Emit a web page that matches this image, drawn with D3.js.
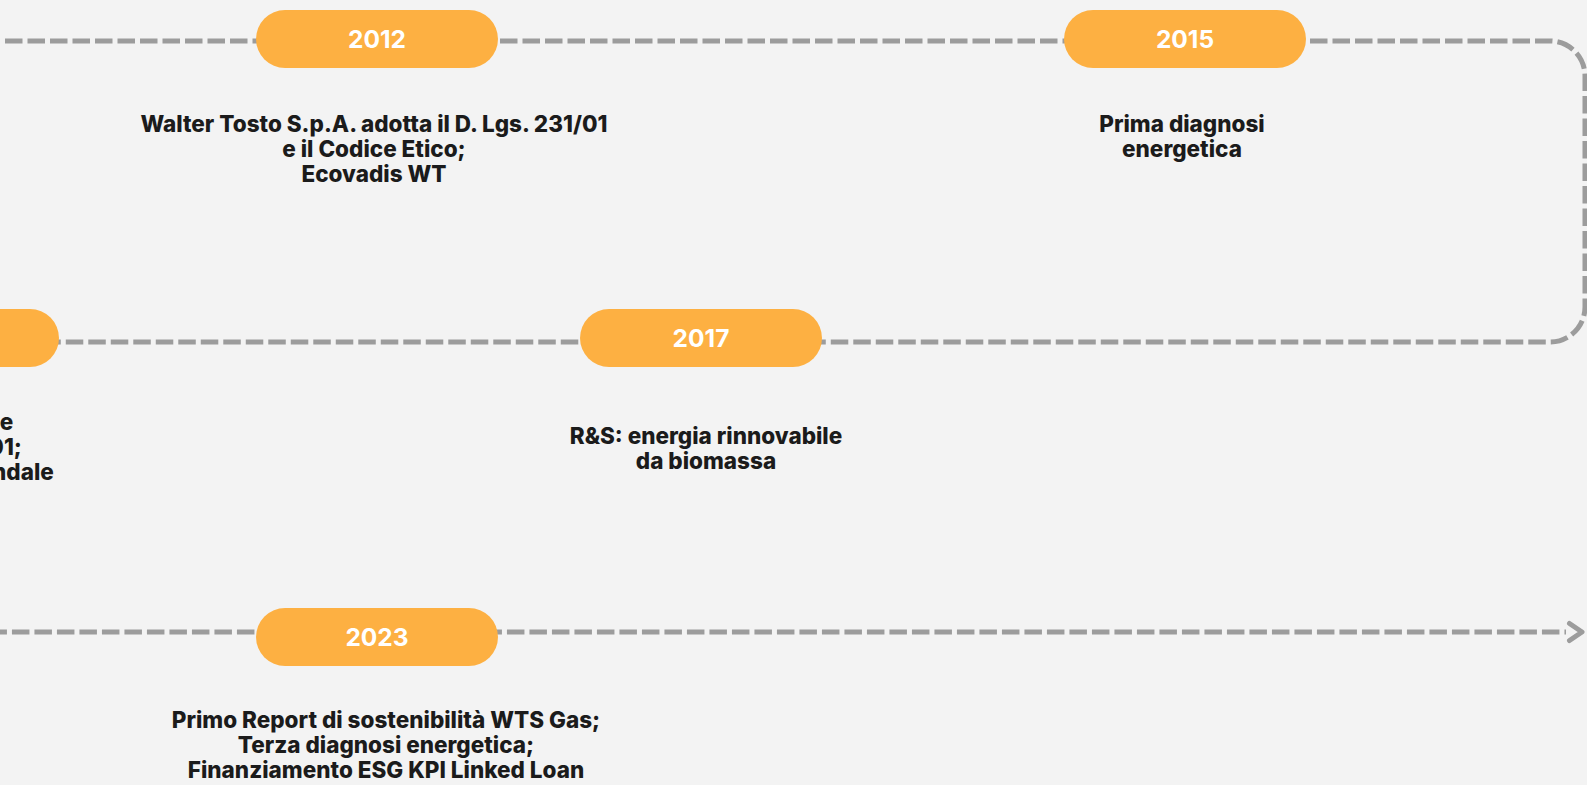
<!DOCTYPE html>
<html>
<head>
<meta charset="utf-8">
<script src="https://cdn.jsdelivr.net/npm/d3@7"></script>
<style>
  html, body { margin: 0; padding: 0; background: #f3f3f3; overflow: hidden; }
  svg { display: block; }
</style>
</head>
<body>
<svg id="chart" width="1587" height="785"></svg>
<script>
// ---------- DATA ----------
const years = ["2012", "2015", "2017", "2020", "2023"];
const descriptions = [
  ["Walter Tosto S.p.A. adotta il D. Lgs. 231/01", "e il Codice Etico;", "Ecovadis WT"],
  ["Prima diagnosi", "energetica"],
  ["R&S: energia rinnovabile", "da biomassa"],
  ["Il Codice Etico, e", "del D. Lgs. 231/01;", "Piano welfare aziendale"],
  ["Primo Report di sostenibilità WTS Gas;", "Terza diagnosi energetica;", "Finanziamento ESG KPI Linked Loan"]
];
// row of the snake each event sits on, and its slot along that row
const eventRow  = [0, 0, 1, 1, 2];
const eventSlot = [0, 1, 0, 1, 0];

// ---------- LAYOUT ----------
const W = 1587, H = 785;
const COLORS = { bg: "#f3f3f3", line: "#9c9c9c", pill: "#fdb042", year: "#ffffff", text: "#1b1b1b" };
const rowPillY = [39, 338, 637];
const rowLineY = [41, 342, 632];
// slot -> x centre, per row (row 1 runs right-to-left)
const rowSlotX = [
  d3.scaleLinear().domain([0, 1]).range([377, 1185]),
  d3.scaleLinear().domain([0, 1]).range([701, -62]),
  d3.scaleLinear().domain([0, 1]).range([377, 1185])
];
const pillW = 242, pillH = 58;
const descNudge = [ {dx: -3, dy: 93}, {dx: -3, dy: 93}, {dx: 5, dy: 106}, {dx: -16, dy: 92}, {dx: 9, dy: 91} ];
const lineH = 25;
const cornerR = 35, rightX = 1585, leftX = -160;

const svg = d3.select("#chart");
svg.append("rect").attr("width", W).attr("height", H).attr("fill", COLORS.bg);

// ---------- snake path ----------
const p = d3.path();
const startX = 5 - 22.5 * 16;
p.moveTo(startX, rowLineY[0]);
p.lineTo(rightX - cornerR, rowLineY[0]);
p.arcTo(rightX, rowLineY[0], rightX, rowLineY[0] + cornerR, cornerR);
p.lineTo(rightX, rowLineY[1] - cornerR);
p.arcTo(rightX, rowLineY[1], rightX - cornerR, rowLineY[1], cornerR);
p.lineTo(leftX + cornerR, rowLineY[1]);
p.arcTo(leftX, rowLineY[1], leftX, rowLineY[1] + cornerR, cornerR);
p.lineTo(leftX, rowLineY[2] - cornerR);
p.arcTo(leftX, rowLineY[2], leftX + cornerR, rowLineY[2], cornerR);
p.lineTo(1566, rowLineY[2]);

svg.append("path")
  .attr("d", p.toString())
  .attr("fill", "none")
  .attr("stroke", COLORS.line)
  .attr("stroke-width", 5)
  .attr("stroke-dasharray", "17.5 5");

// arrow head
const ah = d3.path();
ah.moveTo(1569.5, rowLineY[2] - 8.5);
ah.lineTo(1582, rowLineY[2]);
ah.lineTo(1569.5, rowLineY[2] + 8.5);
svg.append("path")
  .attr("d", ah.toString())
  .attr("fill", "none")
  .attr("stroke", COLORS.line)
  .attr("stroke-width", 5)
  .attr("stroke-linecap", "round")
  .attr("stroke-linejoin", "round");

// ---------- events ----------
const events = years.map((y, i) => ({
  year: y,
  lines: descriptions[i],
  x: rowSlotX[eventRow[i]](eventSlot[i]),
  y: rowPillY[eventRow[i]],
  nudge: descNudge[i]
}));

const g = svg.selectAll("g.event").data(events).join("g").attr("class", "event");

g.append("rect")
  .attr("x", d => d.x - pillW / 2)
  .attr("y", d => d.y - pillH / 2)
  .attr("width", pillW)
  .attr("height", pillH)
  .attr("rx", pillH / 2)
  .attr("fill", COLORS.pill);

g.append("text")
  .attr("x", d => d.x)
  .attr("y", d => d.y + 9)
  .attr("text-anchor", "middle")
  .attr("font-family", "Inter, 'Open Sans', sans-serif")
  .attr("font-weight", 700)
  .attr("font-size", 24.5)
  .attr("fill", COLORS.year)
  .text(d => d.year);

const desc = g.append("text")
  .attr("text-anchor", "middle")
  .attr("font-family", "Inter, 'Open Sans', sans-serif")
  .attr("font-weight", 800)
  .attr("font-size", 22.5)
  .attr("fill", COLORS.text);

desc.selectAll("tspan")
  .data(d => d.lines.map((l, k) => ({ l, k, d })))
  .join("tspan")
  .attr("x", t => t.d.x + t.d.nudge.dx)
  .attr("y", t => t.d.y + t.d.nudge.dy + t.k * lineH)
  .text(t => t.l);
</script>
</body>
</html>
